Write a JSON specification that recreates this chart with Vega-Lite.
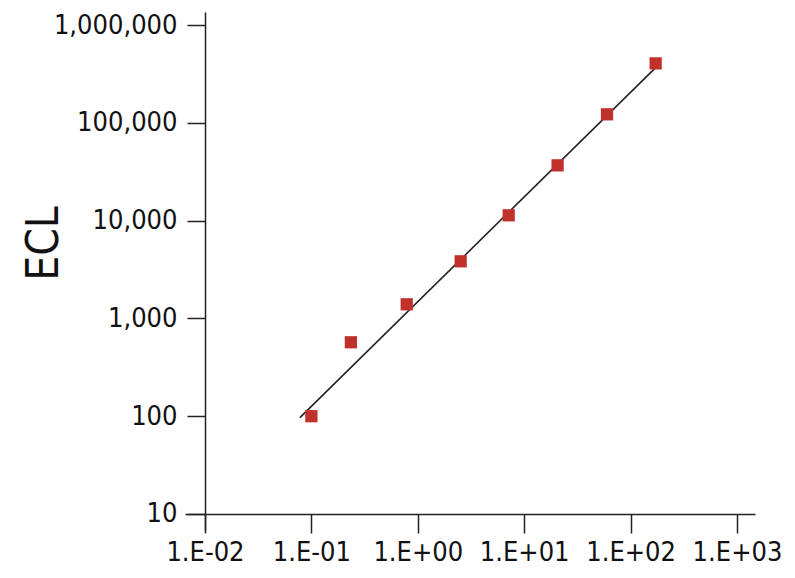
{
  "$schema": "https://vega.github.io/schema/vega-lite/v6.json",
  "width": 570,
  "height": 518,
  "autosize": "none",
  "padding": {"left": 185, "top": 12, "right": 40, "bottom": 48},
  "background": "white",
  "config": {
    "view": {"stroke": null},
    "axis": {
      "labelFont": "DejaVu Sans Condensed",
      "titleFont": "DejaVu Sans Condensed",
      "labelColor": "#111",
      "titleColor": "#111",
      "domainColor": "#222",
      "tickColor": "#222",
      "domainWidth": 1.5,
      "tickWidth": 1.5,
      "grid": false
    }
  },
  "datasets": {
    "points": [
      {"x": 0.1, "y": 100},
      {"x": 0.235, "y": 570},
      {"x": 0.787, "y": 1394},
      {"x": 2.53, "y": 3837},
      {"x": 7.15, "y": 11330},
      {"x": 20.6, "y": 36750},
      {"x": 60.0, "y": 122200},
      {"x": 172, "y": 405700}
    ],
    "fit": [
      {"x": 0.078, "y": 96.6},
      {"x": 173, "y": 369000}
    ]
  },
  "layer": [
    {
      "data": {"name": "fit"},
      "mark": {"type": "line", "color": "#222", "strokeWidth": 1.6},
      "encoding": {
        "x": {"field": "x", "type": "quantitative"},
        "y": {"field": "y", "type": "quantitative"}
      }
    },
    {
      "data": {"name": "points"},
      "mark": {"type": "square", "filled": true, "color": "#C1312C", "size": 150, "opacity": 1},
      "encoding": {
        "x": {
          "field": "x",
          "type": "quantitative",
          "scale": {"type": "log", "domain": [0.00649, 1476], "nice": false},
          "axis": {
            "title": null,
            "values": [0.01, 0.1, 1, 10, 100, 1000],
            "offset": -16,
            "tickSize": 19,
            "labelFontSize": 27,
            "labelPadding": 6,
            "labelExpr": "datum.value < 0.05 ? '1.E-02' : datum.value < 0.5 ? '1.E-01' : datum.value < 5 ? '1.E+00' : datum.value < 50 ? '1.E+01' : datum.value < 500 ? '1.E+02' : '1.E+03'"
          }
        },
        "y": {
          "field": "y",
          "type": "quantitative",
          "scale": {"type": "log", "domain": [6.86, 1360000], "nice": false},
          "axis": {
            "title": "ECL",
            "titleFontSize": 44,
            "titleFontWeight": "normal",
            "titleX": -161,
            "titleY": 231,
            "titleBaseline": "middle",
            "titleAlign": "center",
            "values": [10, 100, 1000, 10000, 100000, 1000000],
            "format": ",d",
            "offset": -20,
            "tickSize": 18,
            "labelFontSize": 27,
            "labelPadding": 10
          }
        }
      }
    }
  ]
}
